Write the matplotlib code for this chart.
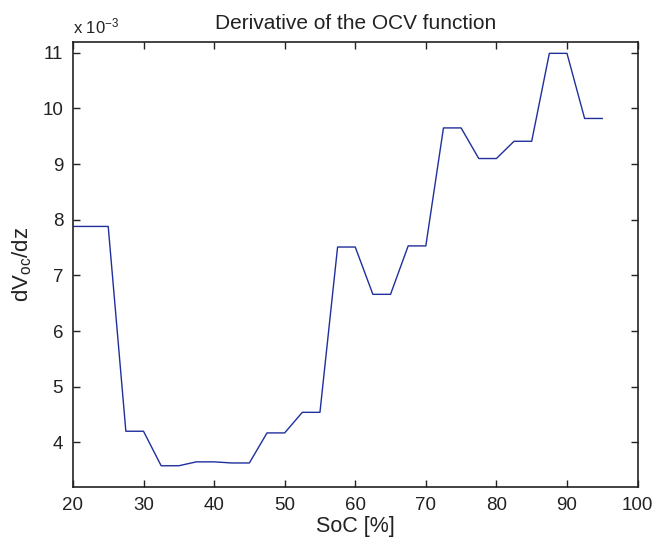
import numpy as np
import matplotlib
matplotlib.use('Agg')
import matplotlib.pyplot as plt

plt.rcParams['font.family'] = ['Liberation Sans', 'DejaVu Sans']
plt.rcParams['mathtext.fontset'] = 'custom'
plt.rcParams['mathtext.rm'] = 'Liberation Sans'
plt.rcParams['mathtext.it'] = 'Liberation Sans:italic'

# SoC grid in %, derivative values in units of 1e-3
soc = [20, 25, 27.5, 30, 32.5, 35, 37.5, 40, 42.5, 45, 47.5, 50, 52.5, 55,
       57.5, 60, 62.5, 65, 67.5, 70, 72.5, 75, 77.5, 80, 82.5, 85, 87.5, 90,
       92.5, 95]
dvdz = [7.88, 7.88, 4.20, 4.20, 3.58, 3.58, 3.65, 3.65, 3.63, 3.63, 4.17, 4.17,
        4.54, 4.54, 7.51, 7.51, 6.66, 6.66, 7.53, 7.53, 9.65, 9.65, 9.10, 9.10,
        9.41, 9.41, 10.99, 10.99, 9.82, 9.82]
xticks = [20, 30, 40, 50, 60, 70, 80, 90, 100]
yticks = [4, 5, 6, 7, 8, 9, 10, 11]

fig = plt.figure(figsize=(6.69, 5.41), dpi=100)
ax = fig.add_axes([0.109, 0.100, 0.844, 0.823])
ax.plot(soc, dvdz, color='#1f2f9c', lw=1.0)

ax.set_xlim(20, 100)
ax.set_ylim(3.2, 11.2)
ax.set_xticks(xticks)
ax.set_yticks(yticks)
ax.tick_params(direction='in', length=5, width=1, top=True, right=True,
               labelsize=13.5, colors='#222222', pad=7)
for s in ax.spines.values():
    s.set_linewidth(1.2)
    s.set_color('#222222')

ax.set_title('Derivative of the OCV function', fontsize=15, color='#222222', pad=9)
ax.set_xlabel('SoC [%]', fontsize=15.5, color='#222222', labelpad=2)
ax.set_ylabel(r'dV$_{\mathrm{oc}}$/dz', fontsize=16, color='#222222', labelpad=6)
ax.text(0.0, 1.012, r'x 10$^{-3}$', transform=ax.transAxes, fontsize=12,
        color='#222222', ha='left', va='bottom')

plt.savefig('out.png', dpi=100)
plt.close()
